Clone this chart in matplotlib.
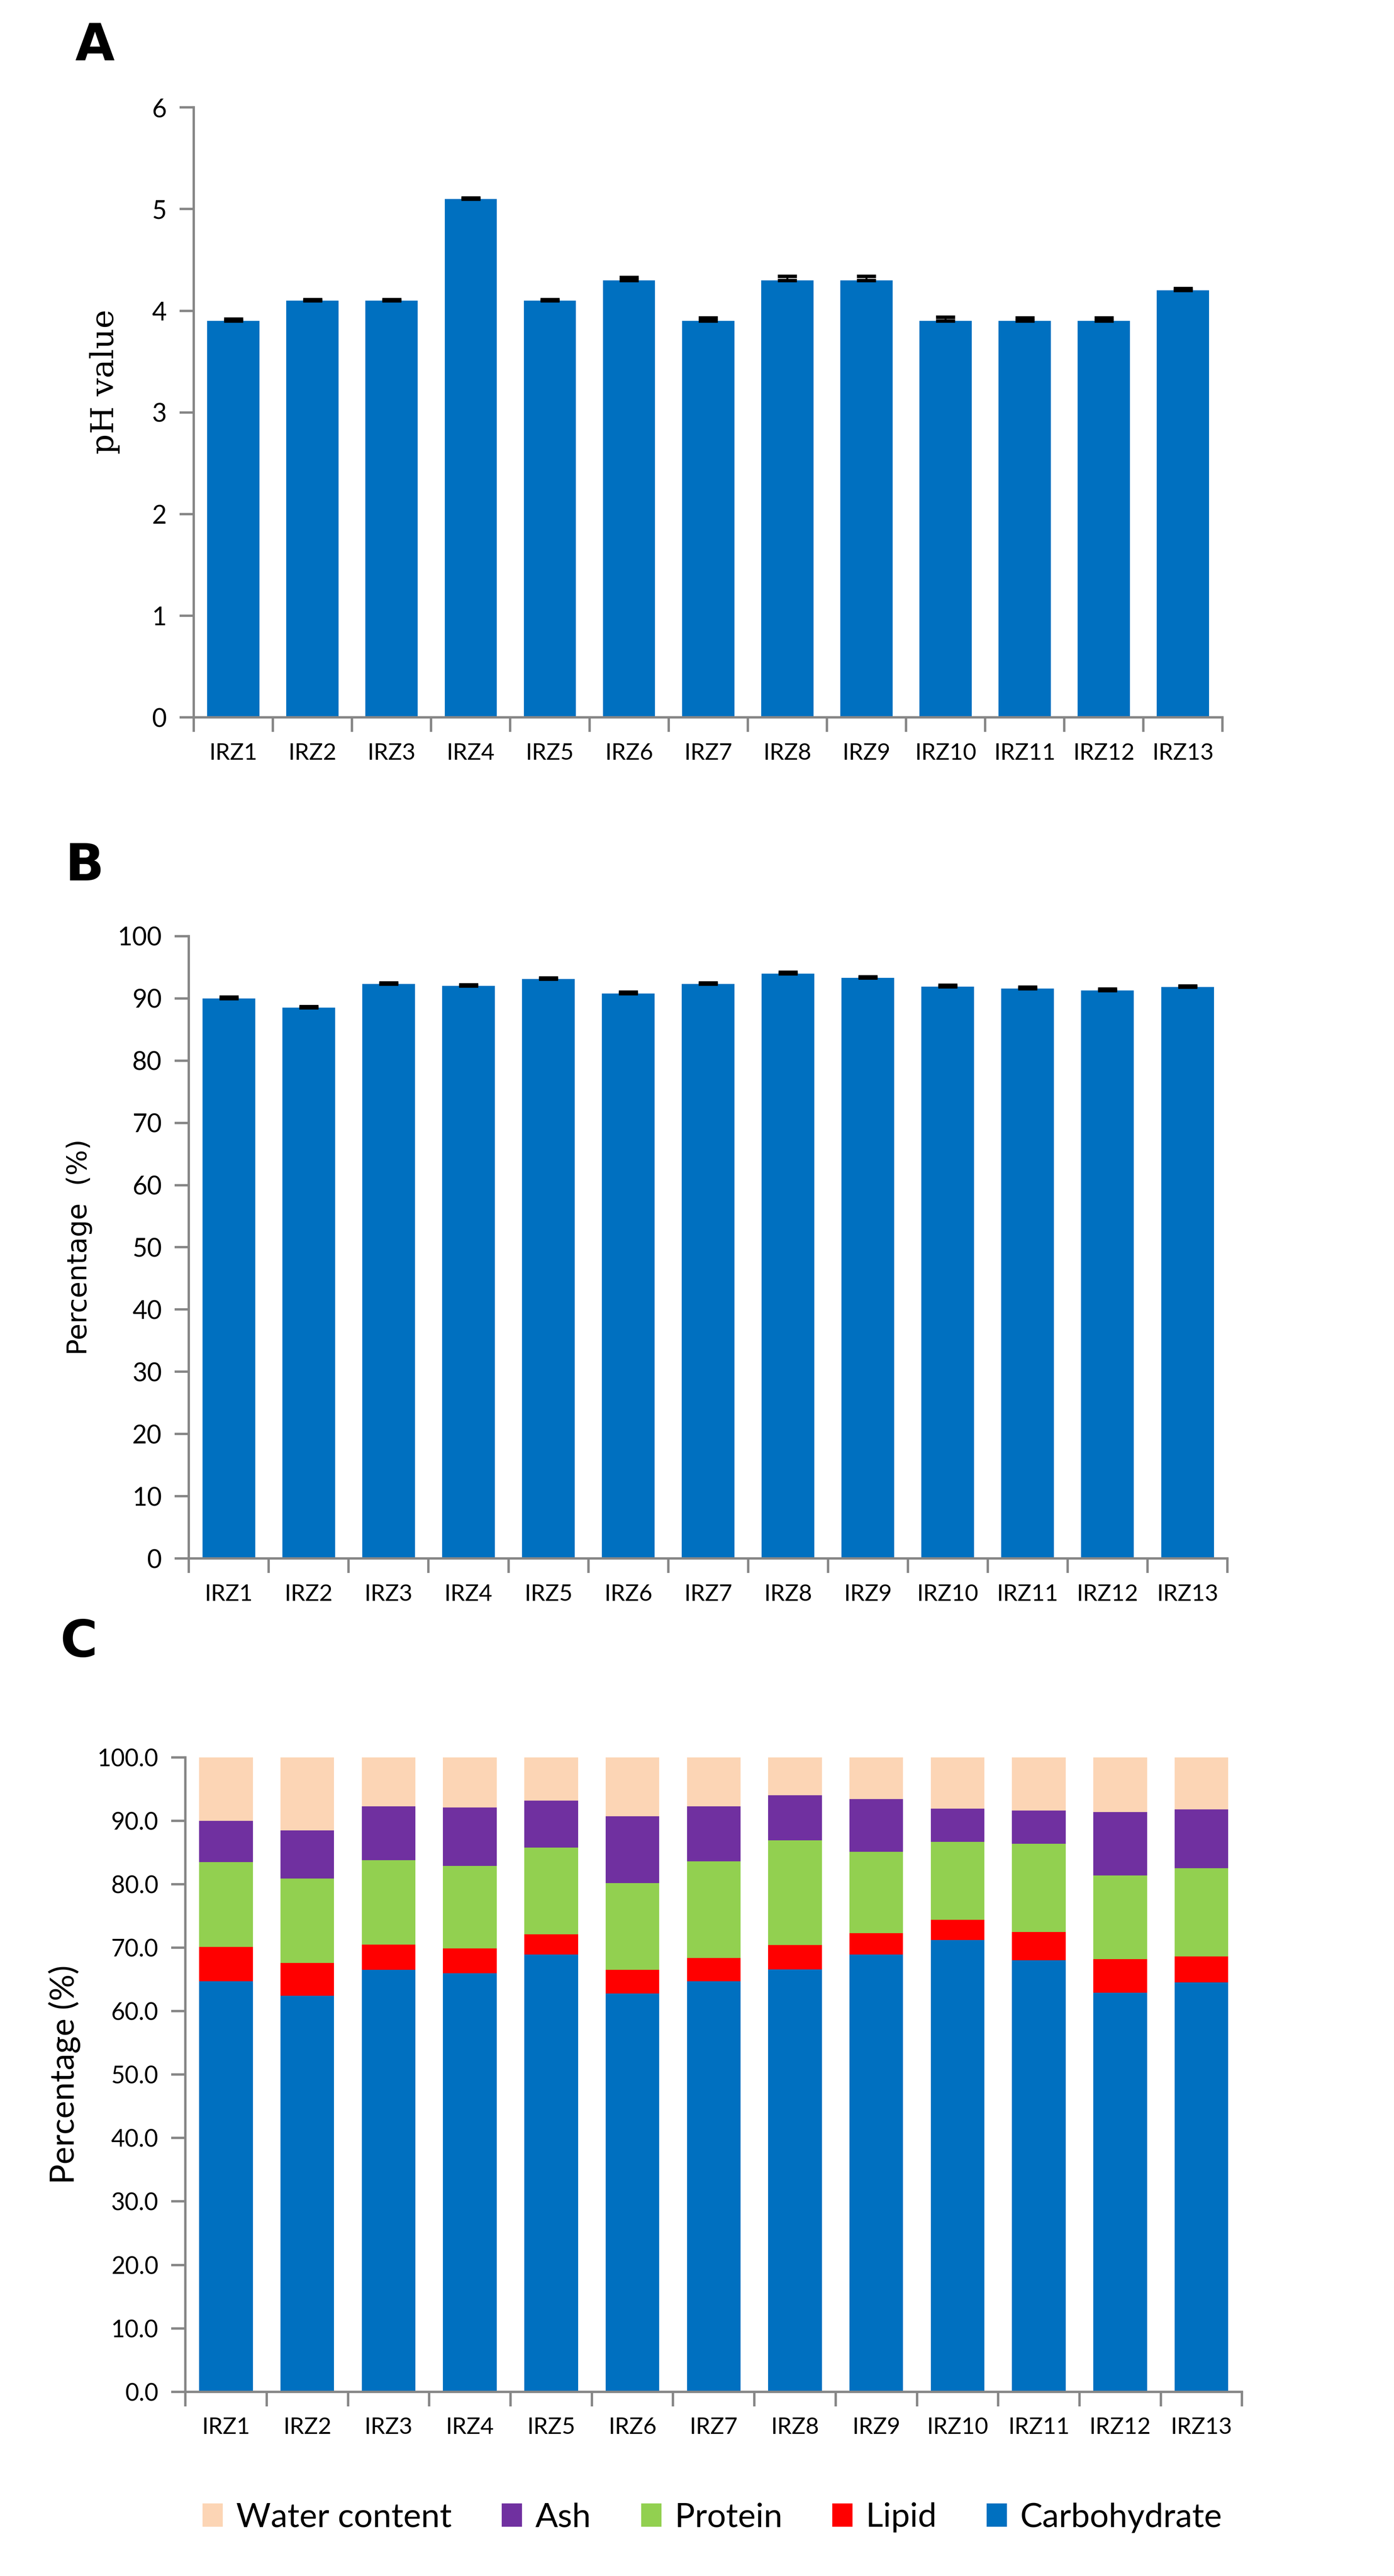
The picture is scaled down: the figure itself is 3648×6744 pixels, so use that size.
import matplotlib.pyplot as plt
import numpy as np
from matplotlib.ticker import MultipleLocator, FormatStrFormatter

samples = ["IRZ1", "IRZ2", "IRZ3", "IRZ4", "IRZ5", "IRZ6", "IRZ7",
           "IRZ8", "IRZ9", "IRZ10", "IRZ11", "IRZ12", "IRZ13"]

# panel A: pH
ph_values = [3.9, 4.1, 4.1, 5.1, 4.1, 4.3, 3.9, 4.3, 4.3, 3.9, 3.9, 3.9, 4.2]
ph_errors = [0.02, 0.01, 0.01, 0.01, 0.01, 0.03, 0.03, 0.04, 0.04, 0.04, 0.03, 0.03, 0.02]

# panel B: dry matter percentage
dry_values = [90.0, 88.5, 92.3, 92.0, 93.1, 90.8, 92.3, 94.0, 93.3, 91.9, 91.6, 91.3, 91.8]
dry_errors = [0.2, 0.2, 0.2, 0.2, 0.2, 0.2, 0.2, 0.2, 0.2, 0.2, 0.2, 0.2, 0.2]

# panel C: composition (%)
carbohydrate = [64.7, 62.4, 66.5, 66.0, 68.9, 62.8, 64.7, 66.6, 68.9, 71.2, 68.0, 62.9, 64.5]
lipid = [5.4, 5.2, 4.0, 3.9, 3.2, 3.7, 3.7, 3.8, 3.4, 3.2, 4.5, 5.3, 4.1]
protein = [13.4, 13.3, 13.3, 13.0, 13.7, 13.7, 15.2, 16.5, 12.8, 12.3, 13.9, 13.2, 13.9]
ash = [6.5, 7.6, 8.5, 9.2, 7.4, 10.5, 8.7, 7.1, 8.3, 5.2, 5.2, 10.0, 9.3]
water = [10.0, 11.5, 7.7, 7.9, 6.8, 9.3, 7.7, 6.0, 6.6, 8.1, 8.4, 8.6, 8.2]

blue = "#0070C0"
axis_gray = "#868686"
tick_font = "Lato"

x = np.arange(len(samples))
bar_width = 0.66

figure = plt.figure(figsize=(12.16, 22.48), dpi=300)


def style_axes(axes, ymax, ystep, fmt=None, ysize=15):
    axes.set_xlim(-0.5, len(samples) - 0.5)
    axes.set_ylim(0, ymax)
    for side in ["top", "right"]:
        axes.spines[side].set_visible(False)
    for side in ["left", "bottom"]:
        axes.spines[side].set_color(axis_gray)
        axes.spines[side].set_linewidth(1.5)
    axes.set_xticks(np.arange(-0.5, len(samples), 1.0))
    axes.set_xticklabels([])
    axes.set_xticks(x, minor=True)
    axes.set_xticklabels(samples, minor=True, fontsize=14.5, family=tick_font)
    axes.tick_params(axis="x", which="major", length=9, width=1.5, color=axis_gray)
    axes.tick_params(axis="x", which="minor", length=0, pad=16)
    axes.yaxis.set_major_locator(MultipleLocator(ystep))
    if fmt:
        axes.yaxis.set_major_formatter(FormatStrFormatter(fmt))
    axes.tick_params(axis="y", length=9, width=1.5, color=axis_gray, pad=8)
    for label in axes.get_yticklabels():
        label.set_fontsize(ysize)
        label.set_family(tick_font)


# A
axes_a = figure.add_axes([0.139, 0.7215, 0.738, 0.2368])
axes_a.bar(x, ph_values, width=bar_width, color=blue, zorder=2)
axes_a.errorbar(x, ph_values, yerr=[np.zeros(len(x)), ph_errors], fmt="none",
                ecolor="black", elinewidth=1.2, capsize=6, capthick=2.2, zorder=3)
style_axes(axes_a, 6, 1, ysize=16)
axes_a.set_ylabel("pH value", fontsize=20, family="DejaVu Serif", va="center")
axes_a.yaxis.set_label_coords(-0.0866, 0.55)
figure.text(0.068, 0.982, "A", fontsize=32, fontweight="bold", ha="center", va="center")

# B
axes_b = figure.add_axes([0.1355, 0.395, 0.745, 0.2416])
axes_b.bar(x, dry_values, width=bar_width, color=blue, zorder=2)
axes_b.errorbar(x, dry_values, yerr=[np.zeros(len(x)), dry_errors], fmt="none",
                ecolor="black", elinewidth=1.2, capsize=6, capthick=2.2, zorder=3)
style_axes(axes_b, 100, 10, ysize=16)
axes_b.set_ylabel("Percentage  (%)", fontsize=17, family="DejaVu Sans", va="center")
axes_b.yaxis.set_label_coords(-0.1056, 0.5)
figure.text(0.0606, 0.6637, "B", fontsize=32, fontweight="bold", ha="center", va="center")

# C
axes_c = figure.add_axes([0.133, 0.0715, 0.758, 0.2463])
components = [("Carbohydrate", carbohydrate, blue),
              ("Lipid", lipid, "#FF0000"),
              ("Protein", protein, "#92D050"),
              ("Ash", ash, "#7030A0"),
              ("Water content", water, "#FCD5B5")]
bottom = np.zeros(len(x))
handles = {}
for name, values, colour in components:
    handles[name] = axes_c.bar(x, values, width=bar_width, bottom=bottom, color=colour,
                               label=name, zorder=2)
    bottom = bottom + np.array(values)
style_axes(axes_c, 100, 10, "%.1f", ysize=15)
axes_c.set_ylabel("Percentage (%)", fontsize=21, family=tick_font, va="center")
axes_c.yaxis.set_label_coords(-0.1146, 0.5)
figure.text(0.0565, 0.3624, "C", fontsize=32, fontweight="bold", ha="center", va="center")

legend_order = ["Water content", "Ash", "Protein", "Lipid", "Carbohydrate"]
figure.legend([handles[n] for n in legend_order], legend_order, loc="center",
              bbox_to_anchor=(0.511, 0.0227), ncol=5, frameon=False,
              prop={"family": tick_font, "size": 21}, handlelength=0.6, handleheight=0.7,
              columnspacing=1.5, handletextpad=0.4)

figure.savefig("out.png", dpi=300)
